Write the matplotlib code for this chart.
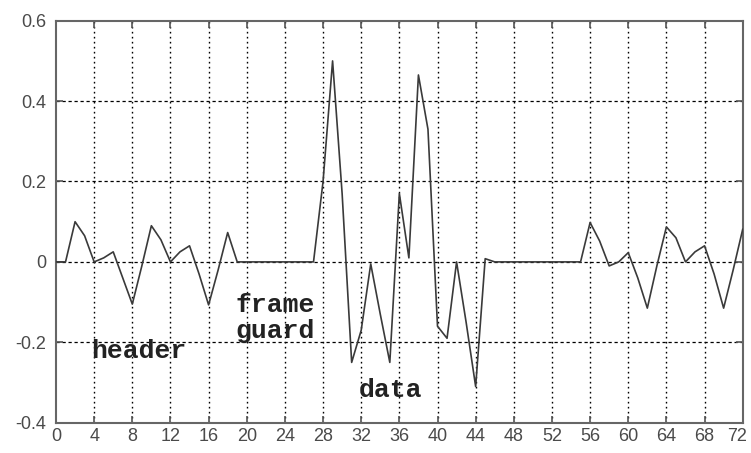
import matplotlib
matplotlib.use("Agg")
import matplotlib.pyplot as plt
import matplotlib.transforms as mtransforms
import numpy as np

# sample index 0..72
sample_idx = list(range(0, 73))
signal = [
    0.0, 0.0, 0.100, 0.065, 0.0, 0.010, 0.025, -0.040, -0.105, -0.010,   # 0-9
    0.090, 0.055, 0.0, 0.025, 0.040, -0.030, -0.107, -0.020, 0.073, 0.0, # 10-19
    0.0, 0.0, 0.0, 0.0, 0.0, 0.0, 0.0, 0.0, 0.200, 0.500,                 # 20-29
    0.170, -0.250, -0.170, -0.005, -0.130, -0.250, 0.170, 0.010, 0.465, 0.330,  # 30-39
    -0.160, -0.190, 0.0, -0.150, -0.310, 0.008, 0.0, 0.0, 0.0, 0.0,       # 40-49
    0.0, 0.0, 0.0, 0.0, 0.0, 0.0, 0.098, 0.052, -0.010, 0.0,              # 50-59
    0.023, -0.040, -0.115, -0.010, 0.087, 0.060, 0.0, 0.025, 0.040, -0.030,  # 60-69
    -0.115, -0.020, 0.081,                                                # 70-72
]

x_ticks = list(range(0, 73, 4))
y_ticks = [-0.4, -0.2, 0.0, 0.2, 0.4, 0.6]
y_tick_labels = ["-0.4", "-0.2", "0", "0.2", "0.4", "0.6"]

annotations = [("header", 3.7, -0.238), ("frame", 18.8, -0.124), ("guard", 18.8, -0.19), ("data", 31.7, -0.336)]

fig = plt.figure(figsize=(7.51, 4.53), dpi=100)
ax = fig.add_axes([56/751, 1 - 422.7/453, (742.7 - 56)/751, (422.7 - 20.7)/453])

ax.plot(sample_idx, signal, color="#3a3a3a", linewidth=1.2, zorder=3)

ax.set_xlim(0, 72)
ax.set_ylim(-0.4, 0.6)
ax.set_xticks(x_ticks)
ax.set_xticklabels([str(t) for t in x_ticks])
ax.set_yticks(y_ticks)
ax.set_yticklabels(y_tick_labels)

# grid
for xt in x_ticks[1:-1]:
    ax.axvline(xt, color="black", linewidth=1.0, linestyle=(0, (1.2, 2.4)), zorder=1)
for yt in y_ticks[1:-1]:
    ax.axhline(yt, color="black", linewidth=0.9, linestyle=(0, (2.6, 2.2)), zorder=1)

for s in ax.spines.values():
    s.set_color("#666666")
    s.set_linewidth(1.5)

ax.tick_params(direction="in", length=5, width=1.2, color="#555555",
               top=True, right=True, labelcolor="#4a4a4a")
ax.tick_params(axis="x", pad=4)
ax.tick_params(axis="y", pad=7)
for lbl in ax.get_xticklabels() + ax.get_yticklabels():
    lbl.set_family(["Liberation Sans", "DejaVu Sans"])
    lbl.set_fontsize(13)

last = ax.get_xticklabels()[-1]
last.set_transform(last.get_transform() + mtransforms.ScaledTranslation(-6/100, 0, fig.dpi_scale_trans))

for txt, xx, yy in annotations:
    ax.text(xx, yy, txt, fontsize=19, fontweight="bold",
            family=["Liberation Mono", "DejaVu Sans Mono"], color="#222222",
            ha="left", va="baseline", zorder=4)

fig.savefig("out.png", dpi=100)
